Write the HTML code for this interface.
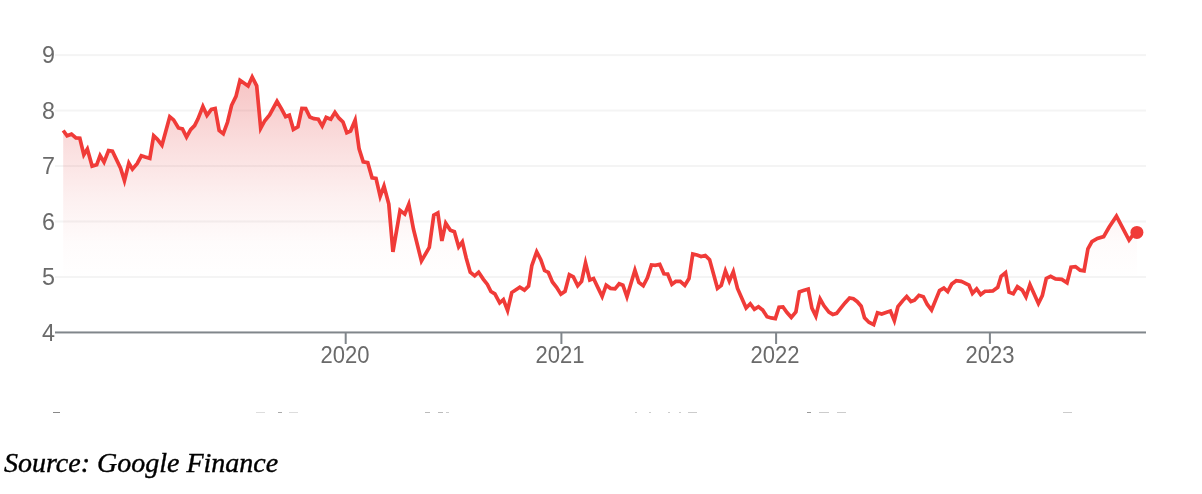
<!DOCTYPE html>
<html><head><meta charset="utf-8"><style>
html,body{margin:0;padding:0;background:#fff;}
.yl,.xl,.src{will-change:transform;}
body{width:1202px;height:494px;position:relative;overflow:hidden;font-family:"Liberation Sans",sans-serif;}
svg{position:absolute;left:0;top:0;}
.yl{position:absolute;left:30px;width:25px;text-align:left;font-size:22px;line-height:26px;color:#6a6a6a;transform:scale(1.06,1.07);transform-origin:0 50%;}
.yl{left:42px}
.xl{position:absolute;top:341.5px;width:80px;text-align:center;font-size:22px;line-height:26px;color:#6a6a6a;transform:scaleY(1.05);transform-origin:50% 0;}
.src{position:absolute;left:4px;top:446px;font-family:"Liberation Serif",serif;font-style:italic;font-size:28px;line-height:34px;color:#000;white-space:nowrap;-webkit-text-stroke:0.4px #000;}
</style></head><body>
<svg width="1202" height="494" viewBox="0 0 1202 494">
<defs><linearGradient id="gf" x1="0" y1="75" x2="0" y2="280" gradientUnits="userSpaceOnUse">
<stop offset="0" stop-color="#e23636" stop-opacity="0.29"/><stop offset="0.107" stop-color="#e23636" stop-opacity="0.26"/><stop offset="0.351" stop-color="#e23636" stop-opacity="0.16"/><stop offset="0.595" stop-color="#e23636" stop-opacity="0.075"/><stop offset="0.815" stop-color="#e23636" stop-opacity="0.02"/><stop offset="1" stop-color="#e23636" stop-opacity="0"/></linearGradient></defs>
<rect x="55" y="54.1" width="1091" height="2" fill="#f4f4f4"/><rect x="55" y="109.57" width="1091" height="2" fill="#f4f4f4"/><rect x="55" y="165.04" width="1091" height="2" fill="#f4f4f4"/><rect x="55" y="220.5" width="1091" height="2" fill="#f4f4f4"/><rect x="55" y="275.98" width="1091" height="2" fill="#f4f4f4"/>
<path d="M63.2,130.5 L67.0748,135.734 L71.4715,134.177 L75.9241,137.938 L79.8223,138.214 L83.8123,154.802 L87.3455,148.993 L92.1242,166.107 L96.7107,164.814 L100.098,155.487 L104.037,162.138 L108.562,150.571 L112.432,151.188 L120.596,168.102 L124.461,180.584 L128.857,162.988 L132.436,169.106 L137.097,163.598 L141.316,155.808 L145.2,157.1 L149.817,158.341 L153.683,135.793 L157.399,139.301 L161.955,145.211 L169.765,116.736 L173.594,119.904 L178.451,127.927 L182.421,128.897 L186.528,137.112 L190.612,129.608 L194.591,125.593 L197.898,119.099 L202.882,106.508 L206.954,115.326 L211.338,109.349 L215.145,108.416 L219.148,130.374 L223.304,133.652 L227.499,122.3 L231.605,105.302 L235.993,96.3977 L239.979,80.2157 L248.106,85.9114 L252.173,76.9403 L256.687,85.8032 L260.683,128.351 L264.808,120.705 L269.595,114.996 L277.008,101.315 L281.5,108.9 L285.624,116.586 L289.346,115.187 L293.36,129.356 L297.935,126.756 L301.893,108.36 L305.72,108.614 L309.846,116.952 L313.903,118.689 L318.317,119.218 L322.227,126.052 L326.179,117.447 L330.777,119.128 L334.942,112.401 L339.007,118.194 L342.973,121.917 L346.795,132.724 L350.547,131.055 L355.14,120.23 L359.104,148.899 L363.217,161.857 L367.769,162.653 L372.046,177.816 L376.024,178.305 L380.189,196.301 L383.999,186.14 L388.798,204 L392.929,251.902 L400.06,210.316 L404.776,214.118 L408.801,204.288 L413.501,229.3 L421.425,261.001 L429.286,247.495 L433.776,215.148 L437.839,212.875 L441.878,240.901 L445.737,223.158 L450.347,230.243 L454.396,231.697 L458.693,246.94 L462.36,241.9 L466.201,258 L470.232,272.181 L474.674,275.895 L478.649,272.25 L483.401,279.299 L487.396,284.403 L490.929,291.473 L494.87,293.927 L499.688,302.783 L503.374,299.615 L507.576,310.404 L511.764,292.542 L519.797,287.205 L524.475,290.104 L528.559,286.179 L531.802,265.601 L536.697,251.824 L540.799,259.7 L544.561,270.545 L548.351,272.447 L552.408,281.996 L556.598,287.301 L560.894,294.13 L565.052,291.269 L569.352,274.798 L573.365,276.831 L577.713,285.703 L581.575,281.389 L585.519,263 L589.787,280.049 L593.559,278.559 L598.4,288.6 L602.17,296.498 L606.151,285.202 L610.517,288.362 L615.04,288.861 L619.169,283.742 L622.922,285.17 L626.959,296.769 L634.917,270.163 L638.837,282.377 L643.272,285.8 L647.398,277.799 L651.461,264.953 L655.299,265.279 L659.757,264.289 L663.909,273.74 L667.678,274.071 L671.885,284.359 L675.724,281.46 L680.267,281.379 L684.813,285.46 L688.986,278.495 L692.775,253.943 L697,255 L701.102,256.452 L705.263,255.444 L709.57,259.617 L717.449,288.354 L721.263,285.379 L725.416,270.942 L729.334,281.027 L733.309,271.744 L737.504,288.399 L746.114,307.942 L750.263,303.76 L754.388,309.315 L758.496,306.679 L762.693,310.007 L767.038,316.649 L771.2,317.9 L775.322,318.597 L779.032,307.167 L782.942,306.918 L787,312.5 L791.295,317.323 L795.874,311.889 L799.327,291.913 L803.4,290.599 L808.236,289.069 L811.905,308.199 L815.832,316.065 L820.09,298.883 L824.005,305.797 L828.91,312.089 L832.812,314.416 L836.673,313.36 L840.6,308.4 L845,302.9 L849.546,297.944 L853.391,298.72 L857.297,301.703 L861.18,306.211 L864.527,317.884 L868.905,322.293 L873.672,324.562 L877.509,312.711 L881.701,313.941 L886.7,312.299 L890.405,311.023 L894.365,320.564 L897.924,306.711 L902.8,300.6 L906.678,296.492 L910.971,301.552 L914.484,300.279 L918.952,295.293 L923.352,296.754 L927.301,304.499 L931.559,310.048 L935.6,300.1 L939.535,290.629 L943.857,288.093 L947.694,291.536 L951.722,284.018 L956.219,280.678 L961.198,281.407 L964.5,282.801 L968.946,285.147 L972.447,293.392 L976.661,288.929 L980.693,294.556 L985.023,291.26 L988.9,291.2 L992.786,290.961 L997.759,287.271 L1001.13,276.217 L1005.55,272.714 L1009.02,292.207 L1013.28,293.701 L1017.42,286.722 L1022.28,290.118 L1025.99,296.928 L1029.97,284.642 L1038.42,303.5 L1042.3,295.599 L1046.28,278.461 L1050.6,276.32 L1055.51,278.878 L1061.79,279.339 L1067.03,282.752 L1071.04,267.251 L1075.48,266.578 L1080.11,270.181 L1084.05,270.922 L1087.91,248.904 L1091.93,241.626 L1097.4,238.506 L1103.65,236.642 L1109.2,227 L1116.45,216.197 L1129.06,240.122 L1132.82,235.125 L1136.9,233 L1136.9,332 L63.2,332 Z" fill="url(#gf)" stroke="none"/>
<rect x="55" y="331.45" width="1091" height="2" fill="#80868b"/>
<rect x="344.7" y="332.5" width="2" height="11.5" fill="#80868b"/><rect x="560.4" y="332.5" width="2" height="11.5" fill="#80868b"/><rect x="775.1" y="332.5" width="2" height="11.5" fill="#80868b"/><rect x="988.9" y="332.5" width="2" height="11.5" fill="#80868b"/>
<path d="M63.2,130.5 L67.0748,135.734 L71.4715,134.177 L75.9241,137.938 L79.8223,138.214 L83.8123,154.802 L87.3455,148.993 L92.1242,166.107 L96.7107,164.814 L100.098,155.487 L104.037,162.138 L108.562,150.571 L112.432,151.188 L120.596,168.102 L124.461,180.584 L128.857,162.988 L132.436,169.106 L137.097,163.598 L141.316,155.808 L145.2,157.1 L149.817,158.341 L153.683,135.793 L157.399,139.301 L161.955,145.211 L169.765,116.736 L173.594,119.904 L178.451,127.927 L182.421,128.897 L186.528,137.112 L190.612,129.608 L194.591,125.593 L197.898,119.099 L202.882,106.508 L206.954,115.326 L211.338,109.349 L215.145,108.416 L219.148,130.374 L223.304,133.652 L227.499,122.3 L231.605,105.302 L235.993,96.3977 L239.979,80.2157 L248.106,85.9114 L252.173,76.9403 L256.687,85.8032 L260.683,128.351 L264.808,120.705 L269.595,114.996 L277.008,101.315 L281.5,108.9 L285.624,116.586 L289.346,115.187 L293.36,129.356 L297.935,126.756 L301.893,108.36 L305.72,108.614 L309.846,116.952 L313.903,118.689 L318.317,119.218 L322.227,126.052 L326.179,117.447 L330.777,119.128 L334.942,112.401 L339.007,118.194 L342.973,121.917 L346.795,132.724 L350.547,131.055 L355.14,120.23 L359.104,148.899 L363.217,161.857 L367.769,162.653 L372.046,177.816 L376.024,178.305 L380.189,196.301 L383.999,186.14 L388.798,204 L392.929,251.902 L400.06,210.316 L404.776,214.118 L408.801,204.288 L413.501,229.3 L421.425,261.001 L429.286,247.495 L433.776,215.148 L437.839,212.875 L441.878,240.901 L445.737,223.158 L450.347,230.243 L454.396,231.697 L458.693,246.94 L462.36,241.9 L466.201,258 L470.232,272.181 L474.674,275.895 L478.649,272.25 L483.401,279.299 L487.396,284.403 L490.929,291.473 L494.87,293.927 L499.688,302.783 L503.374,299.615 L507.576,310.404 L511.764,292.542 L519.797,287.205 L524.475,290.104 L528.559,286.179 L531.802,265.601 L536.697,251.824 L540.799,259.7 L544.561,270.545 L548.351,272.447 L552.408,281.996 L556.598,287.301 L560.894,294.13 L565.052,291.269 L569.352,274.798 L573.365,276.831 L577.713,285.703 L581.575,281.389 L585.519,263 L589.787,280.049 L593.559,278.559 L598.4,288.6 L602.17,296.498 L606.151,285.202 L610.517,288.362 L615.04,288.861 L619.169,283.742 L622.922,285.17 L626.959,296.769 L634.917,270.163 L638.837,282.377 L643.272,285.8 L647.398,277.799 L651.461,264.953 L655.299,265.279 L659.757,264.289 L663.909,273.74 L667.678,274.071 L671.885,284.359 L675.724,281.46 L680.267,281.379 L684.813,285.46 L688.986,278.495 L692.775,253.943 L697,255 L701.102,256.452 L705.263,255.444 L709.57,259.617 L717.449,288.354 L721.263,285.379 L725.416,270.942 L729.334,281.027 L733.309,271.744 L737.504,288.399 L746.114,307.942 L750.263,303.76 L754.388,309.315 L758.496,306.679 L762.693,310.007 L767.038,316.649 L771.2,317.9 L775.322,318.597 L779.032,307.167 L782.942,306.918 L787,312.5 L791.295,317.323 L795.874,311.889 L799.327,291.913 L803.4,290.599 L808.236,289.069 L811.905,308.199 L815.832,316.065 L820.09,298.883 L824.005,305.797 L828.91,312.089 L832.812,314.416 L836.673,313.36 L840.6,308.4 L845,302.9 L849.546,297.944 L853.391,298.72 L857.297,301.703 L861.18,306.211 L864.527,317.884 L868.905,322.293 L873.672,324.562 L877.509,312.711 L881.701,313.941 L886.7,312.299 L890.405,311.023 L894.365,320.564 L897.924,306.711 L902.8,300.6 L906.678,296.492 L910.971,301.552 L914.484,300.279 L918.952,295.293 L923.352,296.754 L927.301,304.499 L931.559,310.048 L935.6,300.1 L939.535,290.629 L943.857,288.093 L947.694,291.536 L951.722,284.018 L956.219,280.678 L961.198,281.407 L964.5,282.801 L968.946,285.147 L972.447,293.392 L976.661,288.929 L980.693,294.556 L985.023,291.26 L988.9,291.2 L992.786,290.961 L997.759,287.271 L1001.13,276.217 L1005.55,272.714 L1009.02,292.207 L1013.28,293.701 L1017.42,286.722 L1022.28,290.118 L1025.99,296.928 L1029.97,284.642 L1038.42,303.5 L1042.3,295.599 L1046.28,278.461 L1050.6,276.32 L1055.51,278.878 L1061.79,279.339 L1067.03,282.752 L1071.04,267.251 L1075.48,266.578 L1080.11,270.181 L1084.05,270.922 L1087.91,248.904 L1091.93,241.626 L1097.4,238.506 L1103.65,236.642 L1109.2,227 L1116.45,216.197 L1129.06,240.122 L1132.82,235.125 L1136.9,233" fill="none" stroke="#f03b38" stroke-width="3.7" stroke-linejoin="miter" stroke-miterlimit="5" stroke-linecap="butt"/>
<circle cx="1136.9" cy="232.4" r="6.5" fill="#f03b38"/>
</svg>
<div class="yl" style="top:43.2px">9</div><div class="yl" style="top:98.67px">8</div><div class="yl" style="top:154.14px">7</div><div class="yl" style="top:209.6px">6</div><div class="yl" style="top:265.08px">5</div><div class="yl" style="top:320.55px">4</div>
<div class="xl" style="left:304.9px">2020</div><div class="xl" style="left:519.8px">2021</div><div class="xl" style="left:735.1px">2022</div><div class="xl" style="left:949.5px">2023</div>
<div style="position:absolute;left:53px;top:412px;width:7px;height:1px;background:#888"></div><div style="position:absolute;left:256px;top:412px;width:9px;height:1px;background:#ddd"></div><div style="position:absolute;left:278px;top:412px;width:4px;height:1px;background:#aaa"></div><div style="position:absolute;left:289px;top:412px;width:9px;height:1px;background:#ddd"></div><div style="position:absolute;left:425px;top:412px;width:5px;height:1px;background:#bbb"></div><div style="position:absolute;left:438px;top:412px;width:5px;height:1px;background:#bbb"></div><div style="position:absolute;left:446px;top:412px;width:3px;height:1px;background:#ccc"></div><div style="position:absolute;left:635px;top:412px;width:2px;height:1px;background:#ccc"></div><div style="position:absolute;left:649px;top:412px;width:2px;height:1px;background:#ccc"></div><div style="position:absolute;left:668px;top:412px;width:2px;height:1px;background:#ccc"></div><div style="position:absolute;left:679px;top:412px;width:2px;height:1px;background:#ccc"></div><div style="position:absolute;left:688px;top:412px;width:9px;height:1px;background:#ccc"></div><div style="position:absolute;left:807px;top:412px;width:4px;height:1px;background:#999"></div><div style="position:absolute;left:819px;top:412px;width:10px;height:1px;background:#ccc"></div><div style="position:absolute;left:837px;top:412px;width:9px;height:1px;background:#ccc"></div><div style="position:absolute;left:1063px;top:412px;width:9px;height:1px;background:#ccc"></div>
<div class="src">Source: Google Finance</div>
</body></html>
